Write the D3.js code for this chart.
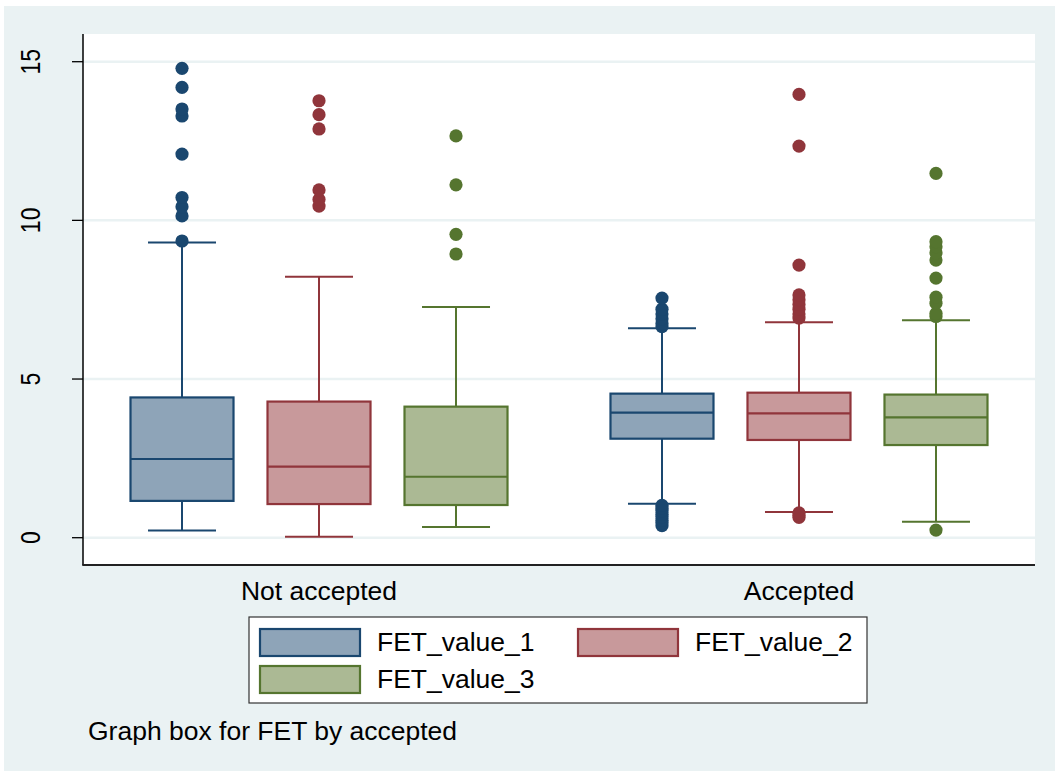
<!DOCTYPE html>
<html lang="en">
<head>
<meta charset="UTF-8"/>
<title>Graph box for FET by accepted</title>
<script src="https://d3js.org/d3.v7.min.js"></script>
<style>
  body { margin: 0; background: #fff; }
  text { font-family: "Liberation Sans", Arial, sans-serif; fill: #000; }
</style>
</head>
<body>
<div id="chart"></div>
<script>
// data
var groups = ["Not accepted", "Accepted"];
var series = ["FET_value_1", "FET_value_2", "FET_value_3"];
var yTicks = [0, 5, 10, 15];

// one row per group, one value per series
var whiskLo = [[0.23, 0.03, 0.34], [1.07, 0.81, 0.50]];
var q1      = [[1.16, 1.06, 1.03], [3.12, 3.08, 2.92]];
var median  = [[2.48, 2.24, 1.92], [3.94, 3.92, 3.79]];
var q3      = [[4.42, 4.29, 4.13], [4.54, 4.57, 4.51]];
var whiskHi = [[9.30, 8.22, 7.27], [6.60, 6.79, 6.85]];

var outliers = [
  [
    [9.35, 10.14, 10.43, 10.72, 12.09, 13.29, 13.51, 14.19, 14.79],
    [10.45, 10.66, 10.96, 12.88, 13.33, 13.77],
    [8.94, 9.56, 11.12, 12.66]
  ],
  [
    [0.38, 0.47, 0.55, 0.66, 0.74, 0.85, 0.93, 1.02, 6.65, 6.75, 6.9, 7.05, 7.2, 7.55],
    [0.64, 0.70, 0.78, 6.92, 7.05, 7.2, 7.35, 7.5, 7.65, 8.59, 12.34, 13.97],
    [0.24, 6.97, 7.07, 7.39, 7.58, 8.18, 8.75, 8.98, 9.17, 9.33, 11.48]
  ]
];

var strokeColors = ["#1a476f", "#90353b", "#55752f"];
var fillColors = ["#8ea4b8", "#c8999b", "#abb994"];

var w = 1055, h = 774;
var plot = { left: 83, right: 1035, top: 34, bottom: 565 };
var boxW = 103, capW = 68;
var fs = 25, sx = 1.06;       // horizontal texts
var tfs = 23, tsx = 1.2;      // rotated tick labels

var svg = d3.select("#chart").append("svg")
  .attr("width", w).attr("height", h);

svg.append("rect").attr("x", 4).attr("y", 6)
  .attr("width", w - 4).attr("height", 765).attr("fill", "#eaf2f3");

svg.append("rect").attr("x", plot.left).attr("y", plot.top)
  .attr("width", plot.right - plot.left).attr("height", plot.bottom - plot.top)
  .attr("fill", "#fff");

var yScale = d3.scaleLinear().domain([0, 15]).range([537.7, 61.7]);
var xGroup = d3.scalePoint().domain(groups).range([plot.left, plot.right]).padding(0.4917);
var xSeries = d3.scalePoint().domain(series).range([-137, 137]);
var color = d3.scaleOrdinal().domain(series).range(strokeColors);
var fill = d3.scaleOrdinal().domain(series).range(fillColors);

// grid
svg.append("g").selectAll("line").data(yTicks).enter().append("line")
  .attr("x1", plot.left).attr("x2", plot.right)
  .attr("y1", function(d) { return yScale(d); })
  .attr("y2", function(d) { return yScale(d); })
  .attr("stroke", "#eaf2f3").attr("stroke-width", 2.5);

// build box records
var boxes = [];
groups.forEach(function(g, gi) {
  series.forEach(function(s, si) {
    boxes.push({
      group: g, series: s,
      lo: whiskLo[gi][si], q1: q1[gi][si], med: median[gi][si],
      q3: q3[gi][si], hi: whiskHi[gi][si], out: outliers[gi][si],
      cx: xGroup(g) + xSeries(s)
    });
  });
});

var bx = svg.append("g").selectAll("g").data(boxes).enter().append("g");

// whiskers
bx.append("line")
  .attr("x1", function(d) { return d.cx; }).attr("x2", function(d) { return d.cx; })
  .attr("y1", function(d) { return yScale(d.q3); }).attr("y2", function(d) { return yScale(d.hi); })
  .attr("stroke", function(d) { return color(d.series); }).attr("stroke-width", 2);
bx.append("line")
  .attr("x1", function(d) { return d.cx; }).attr("x2", function(d) { return d.cx; })
  .attr("y1", function(d) { return yScale(d.q1); }).attr("y2", function(d) { return yScale(d.lo); })
  .attr("stroke", function(d) { return color(d.series); }).attr("stroke-width", 2);
["hi", "lo"].forEach(function(k) {
  bx.append("line")
    .attr("x1", function(d) { return d.cx - capW / 2; })
    .attr("x2", function(d) { return d.cx + capW / 2; })
    .attr("y1", function(d) { return yScale(d[k]); })
    .attr("y2", function(d) { return yScale(d[k]); })
    .attr("stroke", function(d) { return color(d.series); }).attr("stroke-width", 2);
});

// boxes
bx.append("rect")
  .attr("x", function(d) { return d.cx - boxW / 2; })
  .attr("y", function(d) { return yScale(d.q3); })
  .attr("width", boxW)
  .attr("height", function(d) { return yScale(d.q1) - yScale(d.q3); })
  .attr("fill", function(d) { return fill(d.series); })
  .attr("stroke", function(d) { return color(d.series); }).attr("stroke-width", 2.2);
bx.append("line")
  .attr("x1", function(d) { return d.cx - boxW / 2; })
  .attr("x2", function(d) { return d.cx + boxW / 2; })
  .attr("y1", function(d) { return yScale(d.med); })
  .attr("y2", function(d) { return yScale(d.med); })
  .attr("stroke", function(d) { return color(d.series); }).attr("stroke-width", 2.2);

// outside values
bx.selectAll("circle")
  .data(function(d) { return d.out.map(function(v) { return { v: v, d: d }; }); })
  .enter().append("circle")
  .attr("cx", function(o) { return o.d.cx; })
  .attr("cy", function(o) { return yScale(o.v); })
  .attr("r", 6.6)
  .attr("fill", function(o) { return color(o.d.series); });

// axes
svg.append("line").attr("x1", plot.left).attr("x2", plot.left)
  .attr("y1", plot.top).attr("y2", plot.bottom)
  .attr("stroke", "#000").attr("stroke-width", 1.5);
svg.append("line").attr("x1", plot.left - 0.75).attr("x2", plot.right)
  .attr("y1", plot.bottom).attr("y2", plot.bottom)
  .attr("stroke", "#222").attr("stroke-width", 2);

var yt = svg.append("g").selectAll("g").data(yTicks).enter().append("g");
yt.append("line")
  .attr("x1", 72).attr("x2", plot.left)
  .attr("y1", function(d) { return yScale(d); })
  .attr("y2", function(d) { return yScale(d); })
  .attr("stroke", "#000").attr("stroke-width", 1.3);
yt.append("text")
  .attr("transform", function(d) { return "translate(40," + yScale(d) + ") scale(" + tsx + ",1) rotate(-90)"; })
  .attr("text-anchor", "middle")
  .style("font-size", tfs + "px")
  .text(function(d) { return d; });

// group labels
svg.append("g").selectAll("text").data(groups).enter().append("text")
  .attr("transform", function(d) { return "translate(" + xGroup(d) + ",600) scale(" + sx + ",1)"; })
  .attr("text-anchor", "middle")
  .style("font-size", fs + "px")
  .text(function(d) { return d; });

// legend
var lg = svg.append("g");
lg.append("rect").attr("x", 249).attr("y", 617).attr("width", 618).attr("height", 86)
  .attr("fill", "#fff").attr("stroke", "#333").attr("stroke-width", 1.2);
var legPos = [[260, 629], [578, 629], [260, 666]];
var li = lg.selectAll("g.item").data(series).enter().append("g")
  .attr("transform", function(d, i) { return "translate(" + legPos[i][0] + "," + legPos[i][1] + ")"; });
li.append("rect").attr("width", 100).attr("height", 27)
  .attr("fill", function(d) { return fill(d); })
  .attr("stroke", function(d) { return color(d); }).attr("stroke-width", 2.2);
li.append("text")
  .attr("transform", "translate(117,22) scale(" + sx + ",1)")
  .style("font-size", fs + "px")
  .text(function(d) { return d; });

// note
svg.append("text")
  .attr("transform", "translate(88,740) scale(" + sx + ",1)")
  .style("font-size", fs + "px")
  .text("Graph box for FET by accepted");
</script>
</body>
</html>
